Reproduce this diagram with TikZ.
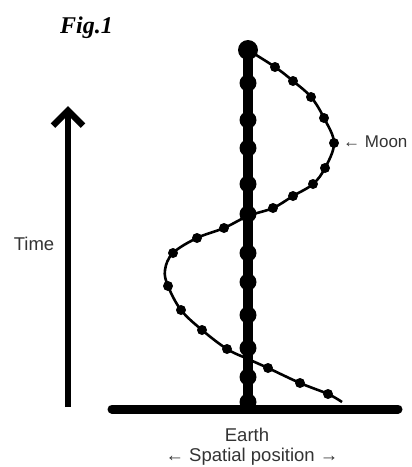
\documentclass[tikz,border=0pt]{standalone}
\usepackage{fontspec}
\setmainfont{Liberation Sans}
\newfontfamily\figfont{Liberation Serif}
\usetikzlibrary{arrows.meta,positioning}

\begin{document}
\begin{tikzpicture}[x=1pt, y=-1pt,
    earthdot/.style={circle, fill=black, inner sep=0pt, minimum size=17pt},
    moondot/.style={circle, fill=black, inner sep=0pt, minimum size=10pt},
    lbl/.style={font=\fontsize{18.5}{21}\selectfont, text=black!80, inner sep=0pt},
    earthline/.style={line width=10pt},
    groundline/.style={line width=9pt, line cap=round},
    orbit/.style={line width=2.6pt},
    timearr/.style={line width=6.5pt, -{Straight Barb[length=15pt, width=30pt]}}
]
    \useasboundingbox (0,0) rectangle (412,467);

    % moon path
    \draw[orbit] plot[smooth, tension=0.6] coordinates {
        (248,50) (275,67) (293,81) (311,97) (324,118) (334,143) (325,168)
        (313,184) (293,196) (273,208) (248,216) (224,228) (197,238) (173,253)
        (165,270) (168,286) (181,310) (202,330) (227,349) (248,359) (268,368)
        (300,383) (328,394) (342,402)};
    \foreach \p [count=\i] in {{275,67},{293,81},{311,97},{324,118},{334,143},
        {325,168},{313,184},{293,196},{273,208},{224,228},{197,238},{173,253},
        {168,286},{181,310},{202,330},{227,349},{268,368},{300,383},{328,394}}
        \node[moondot] (m\i) at (\p) {};

    % earth
    \coordinate (eb) at (248,409);
    \coordinate (gl) at (112,409);
    \coordinate (gr) at (398,409);
    \node[earthdot, minimum size=20pt] (e1) at (248,50) {};
    \draw[earthline] (e1.center) -- (eb);
    \foreach \y [count=\i from 2] in {83,120,148,184,214,253,282,315,348,377,402}
        \node[earthdot] (e\i) at (248,\y) {};
    \draw[groundline] (gl) -- (gr);

    % time axis
    \coordinate (t0) at (68,407);
    \coordinate (t1) at (68,106);
    \draw[timearr] (t0) -- (t1);

    % labels
    \node[lbl, font=\fontsize{17}{20}\selectfont, anchor=west] (moon) at (343,142) {← Moon};
    \node[lbl] (time) at (34,244) {Time};
    \node[lbl] (earth) at (247,435) {Earth};
    \node[lbl] (space) at (252,457) {← Spatial position →};
    \node[anchor=base west, inner sep=0pt, font=\figfont\bfseries\itshape\fontsize{24}{28}\selectfont] (fig) at (60,33) {Fig.1};
\end{tikzpicture}
\end{document}
